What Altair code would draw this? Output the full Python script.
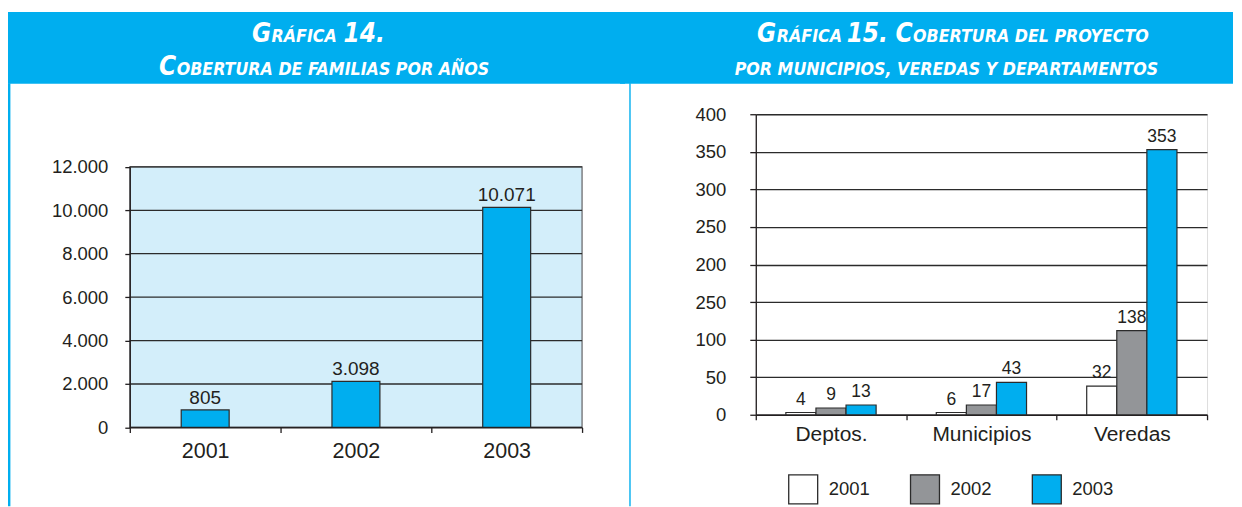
import altair as alt
import pandas as pd

# ---------------- data ----------------
# Gráfica 14
years = ["2001", "2002", "2003"]
familias_drawn = [805, 2120, 10130]          # bar heights as drawn in the picture
familias_labels = ["805", "3.098", "10.071"]  # printed value labels
left_ticks = [0, 2000, 4000, 6000, 8000, 10000, 12000]
left_tick_labels = ["0", "2.000", "4.000", "6.000", "8.000", "10.000", "12.000"]

# Gráfica 15
grupos = ["Deptos.", "Municipios", "Veredas"]
anios = ["2001", "2002", "2003"]
drawn_2001 = [3, 3, 38]
drawn_2002 = [9, 13, 112]
drawn_2003 = [13, 43, 353]
labels_2001 = ["4", "6", "32"]
labels_2002 = ["9", "17", "138"]
labels_2003 = ["13", "43", "353"]
right_ticks = [0, 50, 100, 150, 200, 250, 300, 350, 400]
right_tick_labels = ["0", "50", "100", "250", "200", "250", "300", "350", "400"]
serie_colors = ["#FFFFFF", "#939598", "#00AEEF"]

# ---------------- styles ----------------
CYAN = "#00AEEF"
PLOT_BG = "#D3EEFA"
TEXT = "#231F20"
EDGE = "#2B2B2B"
BORDER = "#6D6E71"
FONT = "Liberation Sans"
TITLE_FONT = "DejaVu Sans Condensed, Liberation Sans Narrow, DejaVu Sans"


def label_expr(vals, labels):
    expr = "''"
    for v, l in reversed(list(zip(vals, labels))):
        expr = f"datum.value == {v} ? '{l}' : ({expr})"
    return expr


one = pd.DataFrame({"d": [0]})


def band(x, x2, y, y2):
    return alt.Chart(one).mark_rect(color=CYAN).encode(
        x=alt.value(x), x2=alt.value(x2), y=alt.value(y), y2=alt.value(y2))


def vline(x, y, y2, w):
    return alt.Chart(one).mark_rule(color=CYAN, strokeWidth=w).encode(
        x=alt.value(x), y=alt.value(y), y2=alt.value(y2))


def ttext(text, x, y, size, align):
    return alt.Chart(one).mark_text(
        text=text, align=align, baseline="alphabetic", font=TITLE_FONT,
        fontSize=size, fontWeight="bold", fontStyle="italic", color="white"
    ).encode(x=alt.value(x), y=alt.value(y))


BIG, SMALL = 26, 17.7
L1, L2 = -72, -39.6   # title baselines relative to the shared plot-row origin
OVERLAP = 6           # the two title bands overlap so they read as one strip

# ---------------- left chart ----------------
W1 = 453
H1 = 313.7            # shared origin row: the plot itself runs from 52.7 to 313.7
PT, PB = 52.7, 313.7
left_df = pd.DataFrame({"anio": years, "valor": familias_drawn, "etiqueta": familias_labels})
grid_left_df = pd.DataFrame({"valor": left_ticks})

y_scale_left = alt.Scale(domain=[0, 12000], nice=False, range=[PB, PT])
x_left = alt.X(
    "anio:N", sort=years, scale=alt.Scale(paddingInner=0, paddingOuter=0),
    axis=alt.Axis(title=None, labelAngle=0, tickBand="extent", labelFontSize=21.5,
                  labelPadding=8.5, tickSize=5, tickColor=TEXT, tickWidth=1.3,
                  domainColor=TEXT, domainWidth=1.3, labelColor=TEXT, labelFont=FONT,
                  grid=False, zindex=1))
y_left = alt.Y(
    "valor:Q", scale=y_scale_left,
    axis=alt.Axis(title=None, values=left_ticks, labelExpr=label_expr(left_ticks, left_tick_labels),
                  labelFontSize=18.5, labelPadding=17, tickSize=5, tickColor=TEXT, tickWidth=1.3,
                  domainColor=TEXT, domainWidth=1.3, labelColor=TEXT, labelFont=FONT,
                  grid=False, zindex=1))

plot_bg_left = alt.Chart(one).mark_rect(fill=PLOT_BG, stroke=BORDER, strokeWidth=1.3).encode(
    x=alt.value(0), x2=alt.value(W1), y=alt.value(PT), y2=alt.value(PB))
grid_left = alt.Chart(grid_left_df).mark_rule(color=EDGE, strokeWidth=1.3).encode(y=y_left)
bars_left = alt.Chart(left_df).mark_bar(
    color=CYAN, stroke=EDGE, strokeWidth=1.2, width=alt.RelativeBandSize(0.318)
).encode(x=x_left, y=y_left)
text_left = alt.Chart(left_df).mark_text(
    baseline="alphabetic", dy=-6, fontSize=19, font=FONT, color=TEXT
).encode(x=x_left, y=y_left, text="etiqueta:N")

left = alt.layer(
    band(-122, 490 + OVERLAP, -102.3, -30.6),
    vline(-120.8, -31, 392.7, 2.4),
    ttext("G", 141.5, L1, BIG, "right"),
    ttext("RÁFICA", 142, L1, SMALL, "left"),
    ttext("14.", 214, L1, BIG, "left"),
    ttext("C", 46.5, L2, BIG, "right"),
    ttext("OBERTURA DE FAMILIAS POR AÑOS", 47, L2, SMALL, "left"),
    plot_bg_left, grid_left, bars_left, text_left,
).properties(width=W1, height=H1,
             view=alt.ViewBackground(fillOpacity=0, strokeOpacity=0))

# ---------------- right chart ----------------
W2, H2 = 452, 301
rows = []
for i, g in enumerate(grupos):
    for a, dv, lv in zip(anios, [drawn_2001, drawn_2002, drawn_2003], [labels_2001, labels_2002, labels_2003]):
        rows.append({"grupo": g, "anio": a, "valor": dv[i], "etiqueta": lv[i]})
right_df = pd.DataFrame(rows)

x_right = alt.X(
    "grupo:N", sort=grupos, scale=alt.Scale(paddingInner=0, paddingOuter=0),
    axis=alt.Axis(title=None, labelAngle=0, tickBand="extent", labelFontSize=21,
                  labelPadding=4, tickSize=5, tickColor=TEXT, tickWidth=1.3,
                  domainColor=TEXT, domainWidth=1.3, labelColor=TEXT, labelFont=FONT, grid=False))
xoff_right = alt.XOffset("anio:N", sort=anios, scale=alt.Scale(paddingInner=0, paddingOuter=1))
y_right = alt.Y(
    "valor:Q", scale=alt.Scale(domain=[0, 400], nice=False),
    axis=alt.Axis(title=None, values=right_ticks, labelExpr=label_expr(right_ticks, right_tick_labels),
                  labelFontSize=18.5, labelPadding=24, tickSize=6, tickColor=TEXT, tickWidth=1.3,
                  domainColor=TEXT, domainWidth=1.3, labelColor=TEXT, labelFont=FONT,
                  grid=True, gridColor=EDGE, gridWidth=1.3))

bars_right = alt.Chart(right_df).mark_bar(stroke=EDGE, strokeWidth=1.2).encode(
    x=x_right, xOffset=xoff_right, y=y_right,
    color=alt.Color("anio:N", sort=anios,
                    scale=alt.Scale(domain=anios, range=serie_colors),
                    legend=alt.Legend(title=None, orient="none", legendX=32, legendY=360,
                                      direction="horizontal", symbolType="square", symbolSize=841,
                                      symbolStrokeColor=EDGE, symbolStrokeWidth=1.3,
                                      labelFontSize=18.5, labelFont=FONT, labelColor=TEXT,
                                      labelOffset=10, columnPadding=37, padding=0)))
text_right = alt.Chart(right_df).mark_text(
    baseline="alphabetic", dy=-8, fontSize=17.5, font=FONT, color=TEXT
).encode(x=x_right, xOffset=xoff_right, y=y_right, text="etiqueta:N")

right = alt.layer(
    band(-136, 478, -102.3, -30.6),
    vline(-126, -31, 392.7, 1.4),
    ttext("G", 20.5, L1, BIG, "right"),
    ttext("RÁFICA", 21, L1, SMALL, "left"),
    ttext("15.", 91, L1, BIG, "left"),
    ttext("C", 157, L1, BIG, "right"),
    ttext("OBERTURA DEL PROYECTO", 157.5, L1, SMALL, "left"),
    ttext("POR MUNICIPIOS, VEREDAS Y DEPARTAMENTOS", 190.9, L2, SMALL, "center"),
    bars_right, text_right,
).properties(width=W2, height=H2)

chart = alt.hconcat(left, right, spacing=-OVERLAP).resolve_legend(color="independent").properties(
    padding={"left": 0, "top": 3, "right": 0, "bottom": 0}
).configure_view(fill=PLOT_BG, stroke=BORDER, strokeWidth=1.3).configure(background="white")

chart.save("out.html", embed_options={"renderer": "svg", "actions": False})
